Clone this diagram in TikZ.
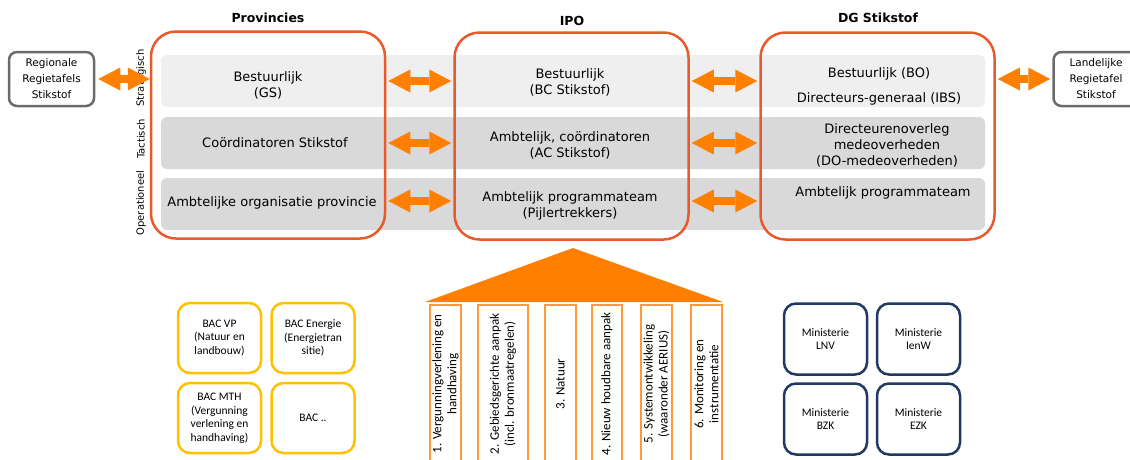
\documentclass[tikz,border=0pt]{standalone}
\usepackage{fontspec}
\setmainfont{DejaVu Sans}
\newfontfamily\calibri{Carlito}
\usepackage{xcolor}
\usetikzlibrary{arrows.meta,positioning,shapes}

\definecolor{boxorange}{HTML}{E65A2B}
\definecolor{arroworange}{HTML}{FF8000}
\definecolor{pillarorange}{HTML}{FF9A3C}
\definecolor{bandlight}{HTML}{EFEFEF}
\definecolor{banddark}{HTML}{D9D9D9}
\definecolor{tablegray}{HTML}{6B6B6B}
\definecolor{bacyellow}{HTML}{FFC000}
\definecolor{minnavy}{HTML}{1F3864}

\begin{document}
\begin{tikzpicture}[x=1pt, y=-1pt,
    party/.style={rectangle, rounded corners=25pt, draw=boxorange, line width=2.5pt, minimum width=234pt, minimum height=207pt},
    band/.style={rectangle, rounded corners=6pt, minimum width=824pt, minimum height=52pt},
    lbl/.style={align=center, inner sep=0pt, font=\fontsize{13}{16}\selectfont},
    coltitle/.style={font=\fontsize{12.5}{15}\selectfont\bfseries},
    tier/.style={rotate=90, inner sep=0pt, font=\fontsize{10}{12}\selectfont},
    regietafel/.style={rectangle, rounded corners=8pt, draw=tablegray, line width=2.5pt, minimum width=85pt, minimum height=54pt, align=center, inner sep=0pt, font=\fontsize{10.5}{16}\selectfont},
    bac/.style={rectangle, rounded corners=12pt, draw=bacyellow, line width=2.5pt, minimum width=83pt, minimum height=70pt, align=center, inner sep=0pt, font=\calibri\fontsize{11.5}{13.5}\selectfont},
    ministry/.style={bac, draw=minnavy, minimum height=71pt},
    pillar/.style={rectangle, draw=pillarorange, line width=1.5pt, rotate=90, minimum width=158pt, minimum height=31pt, align=center, inner sep=0pt, font=\calibri\fontsize{13}{15}\selectfont},
    link/.style={arroworange, line width=8pt, {Triangle[length=22pt,width=23pt,line width=0pt]}-{Triangle[length=22pt,width=23pt,line width=0pt]}}
]
\useasboundingbox (0,0) rectangle (1130,459);

% Layers (bands behind the columns)
\node[band, fill=bandlight] (band1) at (573,81) {};
\node[band, fill=banddark] (band2) at (573,143) {};
\node[band, fill=banddark] (band3) at (573,204) {};

\node[tier] (strat) at (141,78) {Strategisch};
\node[tier] (tact) at (141,139) {Tactisch};
\node[tier] (oper) at (141,203) {Operationeel};

% Columns
\node[party] (prov) at (268,135) {};
\node[party] (ipo) at (571.5,136) {};
\node[party] (dg) at (877.5,136) {};
\node[coltitle] (provtitle) at (268,18) {Provincies};
\node[coltitle] (ipotitle) at (572,21) {IPO};
\node[coltitle] (dgtitle) at (878,18) {DG Stikstof};

% Provincies
\node[lbl] (provS) at (268,85) {Bestuurlijk\\(GS)};
\node[lbl] (provT) at (275,143) {Coördinatoren Stikstof};
\node[lbl] (provO) at (272,203) {Ambtelijke organisatie provincie};

% IPO
\node[lbl] (ipoS) at (570,82) {Bestuurlijk\\(BC Stikstof)};
\node[lbl] (ipoT) at (570,145) {Ambtelijk, coördinatoren\\(AC Stikstof)};
\node[lbl] (ipoO) at (570,206) {Ambtelijk programmateam\\(Pijlertrekkers)};

% DG Stikstof
\node[lbl] (dgS) at (879,86) {Bestuurlijk (BO)\\[9pt]Directeurs-generaal (IBS)};
\node[lbl] (dgT) at (887,145) {Directeurenoverleg\\medeoverheden\\(DO-medeoverheden)};
\node[lbl] (dgO) at (883,193) {Ambtelijk programmateam};

% Regietafels
\node[regietafel] (regional) at (51.5,79) {Regionale\\Regietafels\\Stikstof};
\node[regietafel] (national) at (1096,79) {Landelijke\\Regietafel\\Stikstof};

% Double arrows
\draw[link, shorten <=3pt] (regional.east) -- (prov.west |- regional.east);
\draw[link, shorten <=2pt, shorten >=2pt] (dg.east |- national.west) -- (national.west);
\draw[link, shorten <=2pt, shorten >=2pt] (prov.east |- band1) -- (ipo.west |- band1);
\draw[link, shorten <=2pt, shorten >=2pt] (prov.east |- band2) -- (ipo.west |- band2);
\draw[link, shorten <=2pt, shorten >=2pt] ([yshift=3pt]prov.east |- band3) -- ([yshift=3pt]ipo.west |- band3);
\draw[link, shorten <=2pt, shorten >=2pt] (ipo.east |- band1) -- (dg.west |- band1);
\draw[link, shorten <=2pt, shorten >=2pt] (ipo.east |- band2) -- (dg.west |- band2);
\draw[link, shorten <=2pt, shorten >=2pt] ([yshift=3pt]ipo.east |- band3) -- ([yshift=3pt]dg.west |- band3);

% BAC boxes
\node[bac] (bacvp) at (219.5,338) {BAC VP\\(Natuur en\\landbouw)};
\node[bac] (bacenergie) at (313,338) {BAC Energie\\(Energietran\\sitie)};
\node[bac] (bacmth) at (219.5,418) {BAC MTH\\(Vergunning\\verlening en\\handhaving)};
\node[bac] (bacmore) at (313,418) {BAC ..};

% Roof and pillars
\fill[arroworange] (425,302) -- (573,248) -- (723,302) -- cycle;
\node[pillar] (pillar1) at (445.5,384) {1. Vergunningverlening en\\handhaving};
\node[pillar, minimum height=50pt] (pillar2) at (503,384) {2. Gebiedsgerichte aanpak\\(incl. bronmaatregelen)};
\node[pillar] (pillar3) at (560.5,384) {3. Natuur};
\node[pillar, minimum height=30pt] (pillar4) at (607,384) {4. Nieuw houdbare aanpak};
\node[pillar] (pillar5) at (656.5,384) {5. Systemontwikkeling\\(waaronder AERIUS)};
\node[pillar] (pillar6) at (706.5,384) {6. Monitoring en\\instrumentatie};

% Ministeries
\node[ministry] (lnv) at (825.5,339) {Ministerie\\LNV};
\node[ministry] (ienw) at (918.5,339) {Ministerie\\IenW};
\node[ministry] (bzk) at (825.5,419) {Ministerie\\BZK};
\node[ministry] (ezk) at (918.5,419) {Ministerie\\EZK};

\end{tikzpicture}
\end{document}
